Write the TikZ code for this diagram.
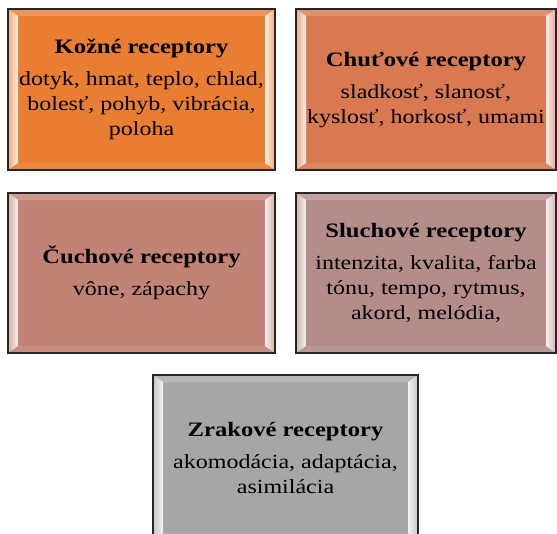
\documentclass[tikz,border=0pt]{standalone}
\usepackage{fontspec}
\setmainfont[FakeStretch=1.2]{Liberation Serif}
\usetikzlibrary{fit}
\definecolor{cA}{RGB}{233,126,51}
\definecolor{cB}{RGB}{216,121,82}
\definecolor{cC}{RGB}{193,131,117}
\definecolor{cD}{RGB}{180,141,139}
\definecolor{cE}{RGB}{166,166,166}
\tikzset{
  boxborder/.style={draw=black!85, line width=1.4pt, inner sep=0pt},
  boxtext/.style={align=center, inner sep=0pt, font=\fontsize{20}{25}\selectfont},
}
\newcommand\titl[1]{{\fontsize{20.5}{25}\selectfont\bfseries #1}\\[7pt]}
% name, x1, y1, x2, y2, colour, text
\newcommand\bevbox[7]{%
  \fill[#6] (#2,#3) rectangle (#4,#5);
  \fill[#6!82!white] (#2,#3) -- (#4,#3) -- (#4-10,#3+7) -- (#2+10,#3+7) -- cycle;
  \fill[#6!92!white] (#2,#5) -- (#4,#5) -- (#4-10,#5-7) -- (#2+10,#5-7) -- cycle;
  \shade[left color=#6!65!white, right color=#6!12!white] (#2,#3) -- (#2+10,#3+7) -- (#2+10,#5-7) -- (#2,#5) -- cycle;
  \shade[left color=#6!12!white, right color=#6!65!white] (#4,#3) -- (#4-10,#3+7) -- (#4-10,#5-7) -- (#4,#5) -- cycle;
  \node[boxborder, fit={(#2,#3) (#4,#5)}] (#1) {};
  \node[boxtext] (#1t) at (#1.center) {#7};
}
\begin{document}
\begin{tikzpicture}[x=1pt,y=-1pt]
\clip (0,0) rectangle (557,533);
\bevbox{koz}{8}{9}{275}{170}{cA}{\titl{Kožné receptory}dotyk, hmat, teplo, chlad,\\bolesť, pohyb, vibrácia,\\poloha}
\bevbox{chut}{296}{9}{556}{170}{cB}{\titl{Chuťové receptory}sladkosť, slanosť,\\kyslosť, horkosť, umami}
\bevbox{cuch}{8}{193}{275}{353}{cC}{\titl{Čuchové receptory}vône, zápachy}
\bevbox{sluch}{296}{193}{556}{353}{cD}{\titl{Sluchové receptory}intenzita, kvalita, farba\\tónu, tempo, rytmus,\\akord, melódia,}
\bevbox{zrak}{153}{375}{418}{540}{cE}{\titl{Zrakové receptory}akomodácia, adaptácia,\\asimilácia}
\end{tikzpicture}
\end{document}
